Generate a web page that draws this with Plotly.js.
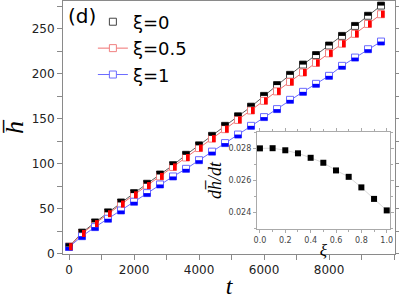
<!DOCTYPE html>
<html>
<head>
<meta charset="utf-8">
<script src="https://cdn.plot.ly/plotly-3.0.1.min.js"></script>
<style>html,body{margin:0;padding:0;background:#fff;}#chart{width:399px;height:305px;}</style>
</head>
<body>
<div id="chart"></div>
<script>
// ---- data ----
var tValues = [0,400,800,1200,1600,2000,2400,2800,3200,3600,4000,4400,4800,5200,5600,6000,6400,6800,7200,7600,8000,8400,8800,9200,9600];
var hXi0   = [7.8,23.5,34.8,46.0,57.0,67.4,77.8,88.1,98.5,110.0,120.5,131.1,142.2,152.8,163.5,175.5,187.5,198.9,210.3,220.9,231.5,242.2,253.3,264.6,275.9];
var hXi05  = [7.8,22.5,33.5,44.5,55.2,65.5,75.8,86.0,96.5,107.0,117.5,128.0,138.5,148.8,159.3,170.0,180.5,191.0,201.5,212.2,222.8,233.5,244.5,255.5,266.3];
var hXi1   = [7.5,19.5,29.6,38.9,48.1,57.8,67.4,77.0,85.9,94.4,104.0,113.5,123.0,132.5,142.2,151.9,160.8,171.1,180.0,188.9,197.8,208.9,218.1,227.4,235.9];
var seriesNames = ['\u03be=0','\u03be=0.5','\u03be=1'];
var xiValues = [0,0.1,0.2,0.3,0.4,0.5,0.6,0.7,0.8,0.9,1.0];
var slopeValues = [0.02800,0.02801,0.02788,0.02769,0.02741,0.02710,0.02662,0.02622,0.02556,0.02484,0.02412];

// ---- layout geometry ----
var W = 399, H = 305;
var M = {l:63, r:4, t:1, b:51};
var xRange = [-185, 10030];
var yRange = [-0.3, 281];
var plotW = W - M.l - M.r, plotH = H - M.t - M.b;
var half = 1.75; // px offset for half-filled marker parts
var dY = half * (yRange[1]-yRange[0]) / plotH;
var dX = half * (xRange[1]-xRange[0]) / plotW;

var fontSans = 'DejaVu Sans, Verdana, sans-serif';
var fontSerif = 'Liberation Serif, Times New Roman, serif';

var cBlack = '#000000', cRed = '#ff0000', cBlue = '#0000ff';
var oBlack = '#444444', oRed = '#f08080', oBlue = '#6a6aff';

function lineTrace(y, col, w, name, show){
  return {x:tValues, y:y, mode:'lines', line:{color:col, width:w}, name:name, showlegend:show, hoverinfo:'skip'};
}
function boxTrace(y, outline, name, mode, lcol){
  return {x:tValues, y:y, mode:mode, name:name, line:{color:lcol, width:1},
          marker:{symbol:'square', size:7, color:'#ffffff', line:{color:outline, width:1}}};
}
function halfTrace(y, col, sym, xa, ya){
  return {x:tValues, y:y, xaxis:xa, yaxis:ya, mode:'markers', showlegend:false, hoverinfo:'skip',
          marker:{symbol:sym, size:5, color:col, line:{color:col, width:3.5}}};
}

var data = [
  lineTrace(hXi0, '#333333', 0.8, seriesNames[0], false),
  boxTrace(hXi0, oBlack, seriesNames[0], 'markers', oBlack),
  boxTrace(hXi05, oRed, seriesNames[1], 'lines+markers', '#f07070'),
  boxTrace(hXi1, oBlue, seriesNames[2], 'lines+markers', '#6b6bff'),
  halfTrace(hXi0, cBlack, 'line-ew', 'x', 'y3'),   // top half
  halfTrace(hXi05, cRed, 'line-ns', 'x3', 'y'),    // right half
  halfTrace(hXi1, cBlue, 'line-ew', 'x', 'y4'),    // bottom half
  {x:xiValues, y:slopeValues, xaxis:'x2', yaxis:'y2', mode:'lines+markers', showlegend:false,
   line:{color:'#d0d0d0', width:0.8}, marker:{symbol:'square', size:6, color:'#000'}}
];

var axCommon = {showline:true, linecolor:'#8a8a8a', linewidth:1, mirror:'allticks', ticks:'outside',
  ticklen:5, tickwidth:1, tickcolor:'#8a8a8a', showgrid:false, zeroline:false,
  tickfont:{family:fontSans, size:12, color:'#222'}};

var layout = {
  width:W, height:H, margin:M, paper_bgcolor:'#fff', plot_bgcolor:'#fff',
  showlegend:true,
  legend:{x:0.09, y:0.99, xanchor:'left', yanchor:'top', bgcolor:'rgba(0,0,0,0)',
          font:{family:fontSans, size:18, color:'#000'}, itemwidth:30, tracegroupgap:0},
  xaxis:Object.assign({}, axCommon, {range:xRange, tickvals:[0,2000,4000,6000,8000],
          minor:{dtick:1000, tick0:0, ticks:'outside', ticklen:3, tickcolor:'#8a8a8a'},
          title:{text:'<i>t</i>', font:{family:fontSerif, size:24, color:'#000'}, standoff:0}}),
  yaxis:Object.assign({}, axCommon, {range:yRange, tickvals:[0,50,100,150,200,250],
          minor:{dtick:25, tick0:0, ticks:'outside', ticklen:3, tickcolor:'#8a8a8a'},
          title:{text:'<i>h\u0305</i>', font:{family:fontSerif, size:26, color:'#000'}, standoff:6}}),
  xaxis3:{overlaying:'x', visible:false, range:[xRange[0]-dX, xRange[1]-dX]},
  yaxis3:{overlaying:'y', visible:false, range:[yRange[0]-dY, yRange[1]-dY]},
  yaxis4:{overlaying:'y', visible:false, range:[yRange[0]+dY, yRange[1]+dY]},
  xaxis2:{domain:[0.584,0.985], anchor:'y2', range:[-0.024,1.026], showline:true, mirror:'allticks',
          linecolor:'#aaa', linewidth:1, ticks:'outside', ticklen:3, tickcolor:'#aaa', showgrid:false, zeroline:false,
          tickvals:[0,0.2,0.4,0.6,0.8,1.0], tickformat:'.1f',
          minor:{dtick:0.1, tick0:0, ticks:'outside', ticklen:2, tickcolor:'#aaa'},
          tickfont:{family:fontSans, size:8, color:'#444'},
          title:{text:'<i>\u03be</i>', font:{family:fontSerif, size:17, color:'#000'}, standoff:0}},
  yaxis2:{domain:[0.099,0.482], anchor:'x2', range:[0.02296,0.02902], showline:true, mirror:'allticks',
          linecolor:'#aaa', linewidth:1, ticks:'outside', ticklen:3, tickcolor:'#aaa', showgrid:false, zeroline:false,
          tickvals:[0.024,0.026,0.028], tickformat:'.3f',
          minor:{dtick:0.001, tick0:0, ticks:'outside', ticklen:2, tickcolor:'#aaa'},
          tickfont:{family:fontSans, size:8, color:'#444'},
          title:{text:'<i>dh\u0305/dt</i>', font:{family:fontSerif, size:18, color:'#000'}, standoff:2}},
  annotations:[{text:'(d)', xref:'paper', yref:'paper', x:0.01, y:0.995, xanchor:'left', yanchor:'top',
                showarrow:false, font:{family:fontSans, size:20, color:'#000'}}]
};

Plotly.newPlot('chart', data, layout, {staticPlot:true, displayModeBar:false});
</script>
</body>
</html>
